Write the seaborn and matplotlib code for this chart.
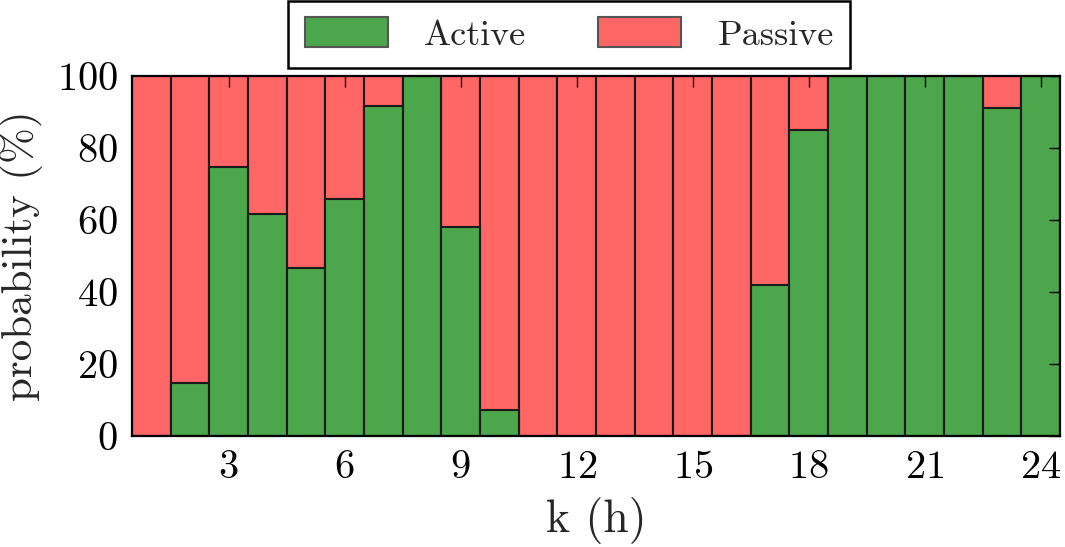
import matplotlib
matplotlib.use('Agg')
import matplotlib.pyplot as plt
from matplotlib.patches import Patch
import pandas as pd
import seaborn as sns

# valores (porcentaje por hora)
horas = list(range(1, 25))
activo = [0, 14.6, 74.6, 61.7, 46.7, 65.9, 91.7, 100, 58.1, 7.2, 0, 0,
          0, 0, 0, 0, 41.9, 85.0, 100, 100, 100, 100, 91.0, 100]
pasivo = [100, 85.4, 25.4, 38.3, 53.3, 34.1, 8.3, 0, 41.9, 92.8, 100, 100,
          100, 100, 100, 100, 58.1, 15.0, 0, 0, 0, 0, 9.0, 0]
ticks_x = [3, 6, 9, 12, 15, 18, 21, 24]
ticks_y = [0, 20, 40, 60, 80, 100]
etiquetas = ['Active', 'Passive']

VERDE = '#4ca64c'
ROJO = '#ff6666'

sns.set_style('white')
plt.rcParams['font.family'] = ['cmr10', 'DejaVu Serif']
plt.rcParams['mathtext.fontset'] = 'cm'
plt.rcParams['axes.formatter.use_mathtext'] = True

df = pd.DataFrame({'hora': horas, 'Active': activo, 'Passive': pasivo})
df['total'] = df['Active'] + df['Passive']

fig, ax = plt.subplots(figsize=(10.65, 5.47), dpi=100)
fig.subplots_adjust(left=132/1065, right=1060/1065, top=1-76/547, bottom=1-436/547)

# barra apilada: primero el total (pasivo arriba), luego el activo encima
sns.barplot(data=df, x='hora', y='total', native_scale=True, width=1.0,
            color=ROJO, saturation=1, edgecolor='#1a1a1a', linewidth=1.5, ax=ax)
sns.barplot(data=df, x='hora', y='Active', native_scale=True, width=1.0,
            color=VERDE, saturation=1, edgecolor='#1a1a1a', linewidth=1.5, ax=ax)

ax.set_axisbelow(False)
ax.set_xlim(0.5, 24.5)
ax.set_ylim(0, 100)
ax.set_xticks(ticks_x)
ax.set_yticks(ticks_y)
ax.tick_params(direction='in', top=True, right=True, length=8, width=1,
               labelsize=29, pad=10, colors='black')
for s in ax.spines.values():
    s.set_linewidth(1.6)
    s.set_color('black')

ax.set_xlabel('k (h)', fontsize=33, labelpad=8)
ax.set_ylabel('probability (%)', fontsize=31, labelpad=10)

handles = [Patch(facecolor=VERDE, edgecolor='#555555', linewidth=1.5),
           Patch(facecolor=ROJO, edgecolor='#555555', linewidth=1.5)]
leg = ax.legend(handles, etiquetas, loc='lower center', bbox_to_anchor=(0.471, 1.022),
                ncol=2, fontsize=26, frameon=True, fancybox=False, framealpha=1,
                edgecolor='black', borderaxespad=0, handlelength=2.3, handleheight=0.9,
                handletextpad=1.0, columnspacing=2.0, borderpad=0.45)
leg.get_frame().set_linewidth(1.8)

plt.savefig('out.png', dpi=100)
